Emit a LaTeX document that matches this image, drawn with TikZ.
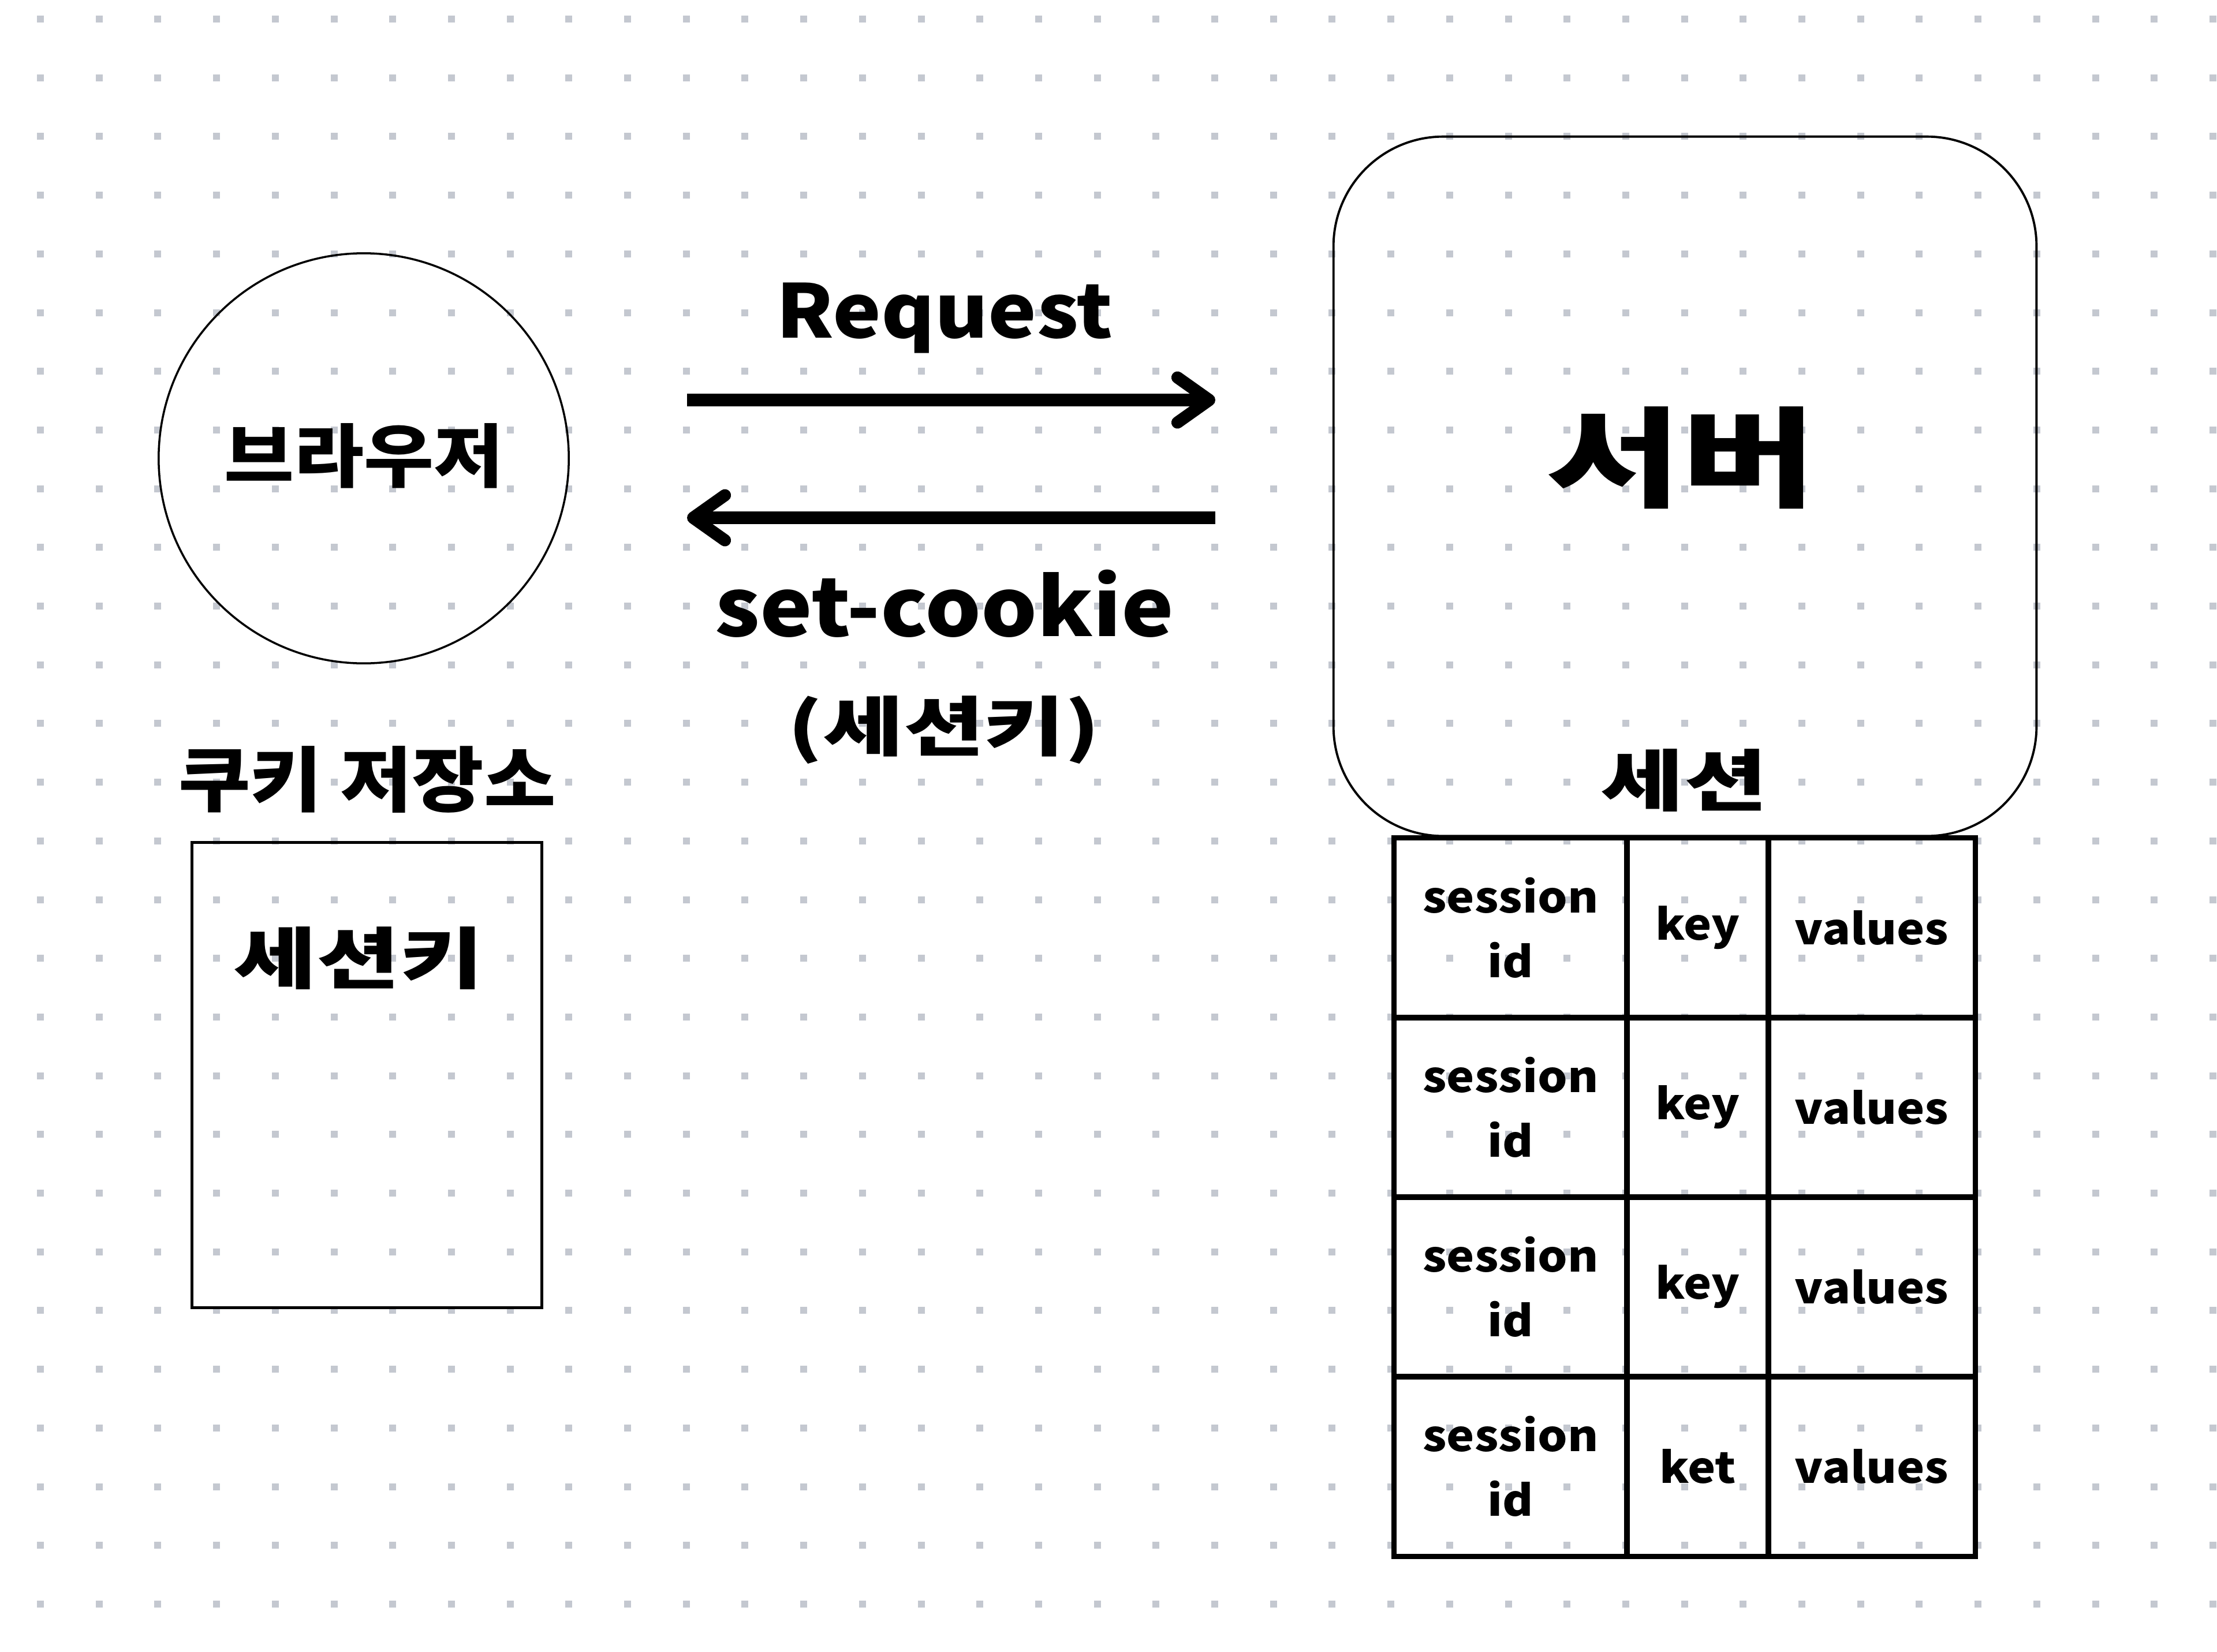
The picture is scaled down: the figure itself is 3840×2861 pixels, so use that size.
\documentclass[tikz,border=0pt]{standalone}
\usepackage{fontspec}
\setmainfont{Noto Sans CJK KR}[FakeStretch=1.1]
\newfontfamily\krw{Noto Sans CJK KR}[FakeStretch=1.35]
\usetikzlibrary{arrows.meta}
\definecolor{dotgray}{RGB}{196,200,208}
\begin{document}
\begin{tikzpicture}[x=0.01cm,y=-0.01cm,
  every node/.style={text=black},
  lbl/.style={font=\bfseries\fontsize{#1}{#1}\selectfont, inner sep=0pt},
  wlbl/.style={font=\krw\bfseries\fontsize{#1}{#1}\selectfont, inner sep=0pt},
  cell/.style={draw, line width=2.6pt, minimum height=3.11cm, inner sep=0pt, align=center,
    font=\bfseries\fontsize{21}{32}\selectfont},
  flow/.style={line width=6pt, -{Straight Barb[length=0.55cm,width=0.78cm,round]}},
  ]
\useasboundingbox (0,0) rectangle (3840,2861);
\fill[white] (0,0) rectangle (3840,2861);
\foreach \i in {0,...,37}{\foreach \j in {0,...,27}{
  \fill[dotgray] ({70+\i*101.7-6},{33+\j*101.7-6}) rectangle ++(12,12);}}

% browser
\node[draw, circle, line width=1pt, minimum size=7.1cm, inner sep=0pt] (browser) at (630,794) {};
\node[lbl=34] (browsertxt) at (630,790) {브라우저};

% cookie store
\node[lbl=35] (cookielbl) at (636,1350) {쿠키 저장소};
\node[draw, line width=1.5pt, minimum width=6.05cm, minimum height=8.05cm, inner sep=0pt] (store) at (635.5,1862.5) {};
\node[wlbl=33] (storekey) at (621,1660) {세션키};

% server
\node[draw, rounded corners=1.9cm, line width=1.1pt, minimum width=12.17cm, minimum height=12.11cm, inner sep=0pt] (server) at (2918.5,842.5) {};
\node[wlbl=53.5] (servertxt) at (2912,793) {서버};
\node[wlbl=33] (sessionlbl) at (2917,1352) {세션};

% arrows
\coordinate (reqL) at (1190,693);
\coordinate (reqR) at (2105,693);
\coordinate (setR) at (2105,897);
\coordinate (setL) at (1190,897);
\draw[flow] (reqL) -- (reqR);
\draw[flow] (setR) -- (setL);
\node[lbl=36.5, anchor=base] (reqtxt) at (1636,585) {Request};
\node[lbl=39.5, anchor=base] (settxt) at (1636,1102) {set-cookie};
\node[wlbl=32] (setkey) at (1635,1265) {(세션키)};

% session table
\foreach \r/\k in {1/key,2/key,3/key,4/ket}{
  \node[cell, minimum width=4.03cm] (sid\r) at (2616.5,{1452+311*(\r-0.5)}) {session\\id};
  \node[cell, minimum width=2.45cm] (key\r) at (2940.5,{1452+311*(\r-0.5)}) {\k};
  \node[cell, minimum width=3.58cm] (val\r) at (3242,{1452+311*(\r-0.5)}) {values};
}
\end{tikzpicture}
\end{document}
